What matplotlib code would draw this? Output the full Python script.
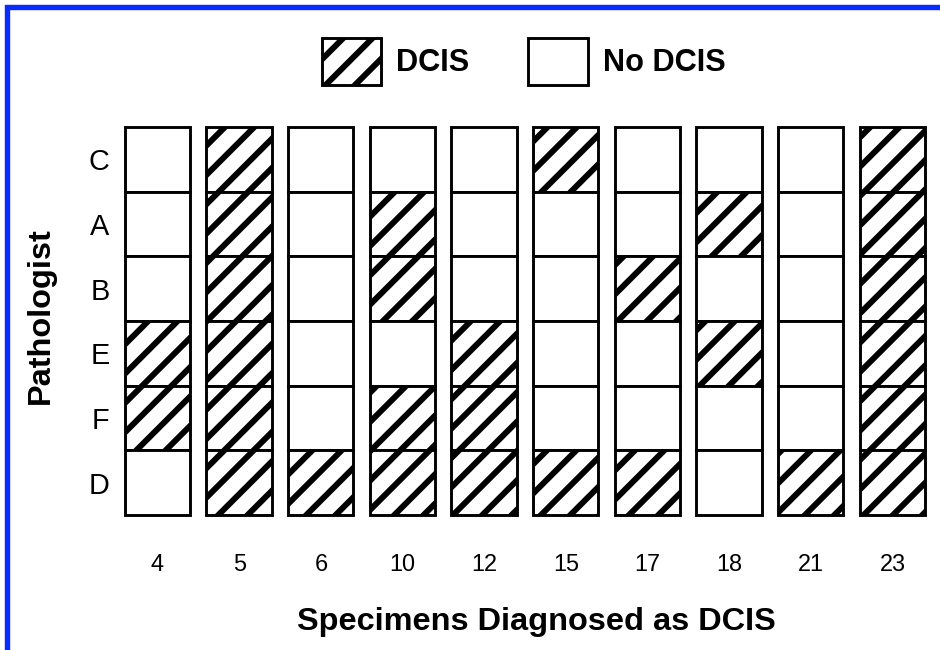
import matplotlib.pyplot as plt
from matplotlib.patches import Patch, Rectangle
import numpy as np

# hatch spacing follows the dpi, so the figure is laid out at dpi 88
# and every size in points is scaled by k to keep the pixel sizes
dpi = 88
k = 130 / dpi

plt.rcParams['font.family'] = ['Liberation Sans', 'DejaVu Sans']
plt.rcParams['hatch.linewidth'] = 3.3 * k

specimens = ['4', '5', '6', '10', '12', '15', '17', '18', '21', '23']
pathologists = ['C', 'A', 'B', 'E', 'F', 'D']  # top to bottom

# 1 = diagnosed as DCIS, 0 = no DCIS
dcis_C = [0, 1, 0, 0, 0, 1, 0, 0, 0, 1]
dcis_A = [0, 1, 0, 1, 0, 0, 0, 1, 0, 1]
dcis_B = [0, 1, 0, 1, 0, 0, 1, 0, 0, 1]
dcis_E = [1, 1, 0, 0, 1, 0, 0, 1, 0, 1]
dcis_F = [1, 1, 0, 1, 1, 0, 0, 0, 0, 1]
dcis_D = [0, 1, 1, 1, 1, 1, 1, 0, 1, 1]
dcis_rows = [dcis_C, dcis_A, dcis_B, dcis_E, dcis_F, dcis_D]

fig = plt.figure(figsize=(940 / dpi, 650 / dpi), dpi=dpi)
ax = fig.add_axes([0.1241, 0.2077, 0.8688, 0.5969])

x = np.arange(len(specimens))
n_rows = len(pathologists)
for i, (name, row) in enumerate(zip(pathologists, dcis_rows)):
    y = n_rows - 1 - i
    for j, val in enumerate(row):
        ax.bar(x[j], 1, bottom=y - 0.5, width=0.8,
               color='white', edgecolor='black', linewidth=1.6 * k,
               hatch='/' if val else '', clip_on=False)

ax.set_xlim(-0.5, len(specimens) - 0.5)
ax.set_ylim(-0.5, n_rows - 0.5)
ax.set_xticks(x)
ax.set_xticklabels(specimens, fontsize=13 * k)
ax.set_yticks(np.arange(n_rows))
ax.set_yticklabels(pathologists[::-1], fontsize=16 * k)
ax.tick_params(axis='x', length=0, pad=21 * k)
ax.tick_params(axis='y', length=0, pad=4 * k)
for s in ax.spines.values():
    s.set_visible(False)

fig.text(0.571, 0.043, 'Specimens Diagnosed as DCIS', ha='center', va='center',
         fontsize=18 * k, fontweight='bold')
fig.text(0.043, 0.514, 'Pathologist', ha='center', va='center', rotation=90,
         fontsize=18 * k, fontweight='bold')

handles = [Patch(facecolor='white', edgecolor='black', linewidth=1.6 * k, hatch='/', label='DCIS'),
           Patch(facecolor='white', edgecolor='black', linewidth=1.6 * k, label='No DCIS')]
fig.legend(handles=handles, loc='center', bbox_to_anchor=(0.557, 0.905), ncol=2,
           frameon=False, prop={'size': 17 * k, 'weight': 'bold'},
           handlelength=1.95, handleheight=2.0, handletextpad=0.49, columnspacing=1.9)

# blue frame around the picture
fig.patches.append(Rectangle((7 / 940, -0.05), 1.1, 1.05 - 7 / 650, transform=fig.transFigure,
                             fill=False, edgecolor='#0a2bff', linewidth=3.0 * k))

fig.savefig('out.png', dpi=dpi)
